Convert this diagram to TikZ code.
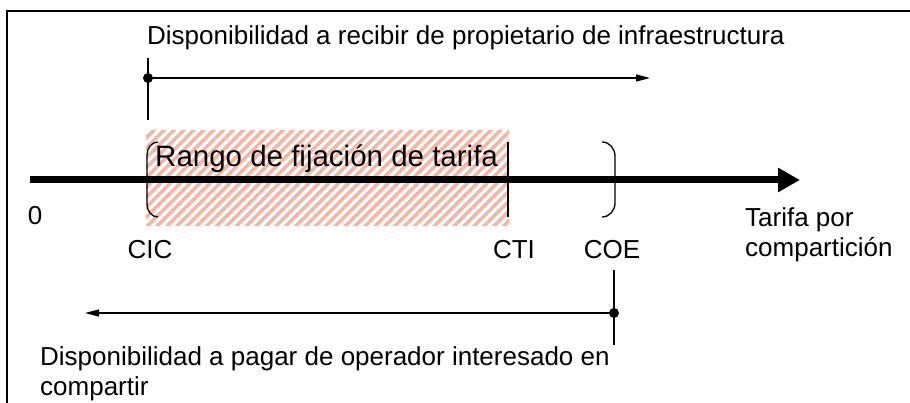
\documentclass[tikz,border=0pt]{standalone}
\usepackage{fontspec}
\setmainfont{Liberation Sans}
\usetikzlibrary{arrows.meta,patterns.meta}
\definecolor{hatchred}{RGB}{246,180,164}

\begin{document}
\begin{tikzpicture}[x=1pt,y=-1pt,
    lbl/.style={font=\fontsize{26}{30}\selectfont,inner sep=0pt},
    big/.style={font=\fontsize{29.5}{34}\selectfont,inner sep=0pt},
    thin/.style={line width=1.3pt},
    dot/.style={circle,fill,inner sep=0pt,minimum size=10pt},
    tip/.style={-{Triangle[length=14pt,width=7pt]}}]
  \useasboundingbox (0,0) rectangle (910,403);
  \draw[line width=2.5pt] (7,403) -- (7,11) -- (910,11);
  % rango de tarifa
  \fill[pattern={Lines[angle=45,distance=7pt,line width=3.5pt]},pattern color=hatchred]
    (146,131) rectangle (509,226);
  \node[big,anchor=base west] (rango) at (155,167) {Rango de fijación de tarifa};
  % eje
  \coordinate (o) at (30,180);
  \coordinate (fin) at (800,180);
  \draw[line width=7pt,-{Triangle[length=22pt,width=23pt]}] (o) -- (fin);
  \draw[thin] (158,142) to[out=180,in=90] (147,155) -- (147,204) to[out=-90,in=180] (158,217);
  \draw[thin] (508,142) -- (508,217);
  \draw[thin] (602,142) to[out=0,in=90] (615,156) -- (615,203) to[out=-90,in=0] (602,217);
  \node[lbl] (cero) at (35,216) {0};
  \node[lbl] (cic) at (150,250) {CIC};
  \node[lbl] (cti) at (514,250) {CTI};
  \node[lbl] (coe) at (612,250) {COE};
  \node[lbl,align=left,anchor=north west] (tarifa) at (745,207) {Tarifa por\\compartición};
  % recibir
  \node[lbl,anchor=base west] (recibir) at (147,45)
    {Disponibilidad a recibir de propietario de infraestructura};
  \coordinate (rtop) at (148,58);
  \coordinate (rbot) at (148,120);
  \node[dot] (rdot) at (148,78) {};
  \coordinate (rfin) at (650,78);
  \draw[thin] (rtop) -- (rbot);
  \draw[thin,tip] (rdot.center) -- (rfin);
  % pagar
  \coordinate (ptop) at (614,270);
  \coordinate (pbot) at (614,345);
  \node[dot] (pdot) at (614,313) {};
  \coordinate (pfin) at (85,313);
  \draw[thin] (ptop) -- (pbot);
  \draw[thin,tip] (pdot.center) -- (pfin);
  \node[lbl,align=left,anchor=north west] (pagar) at (40,346)
    {Disponibilidad a pagar de operador interesado en\\compartir};
\end{tikzpicture}
\end{document}
